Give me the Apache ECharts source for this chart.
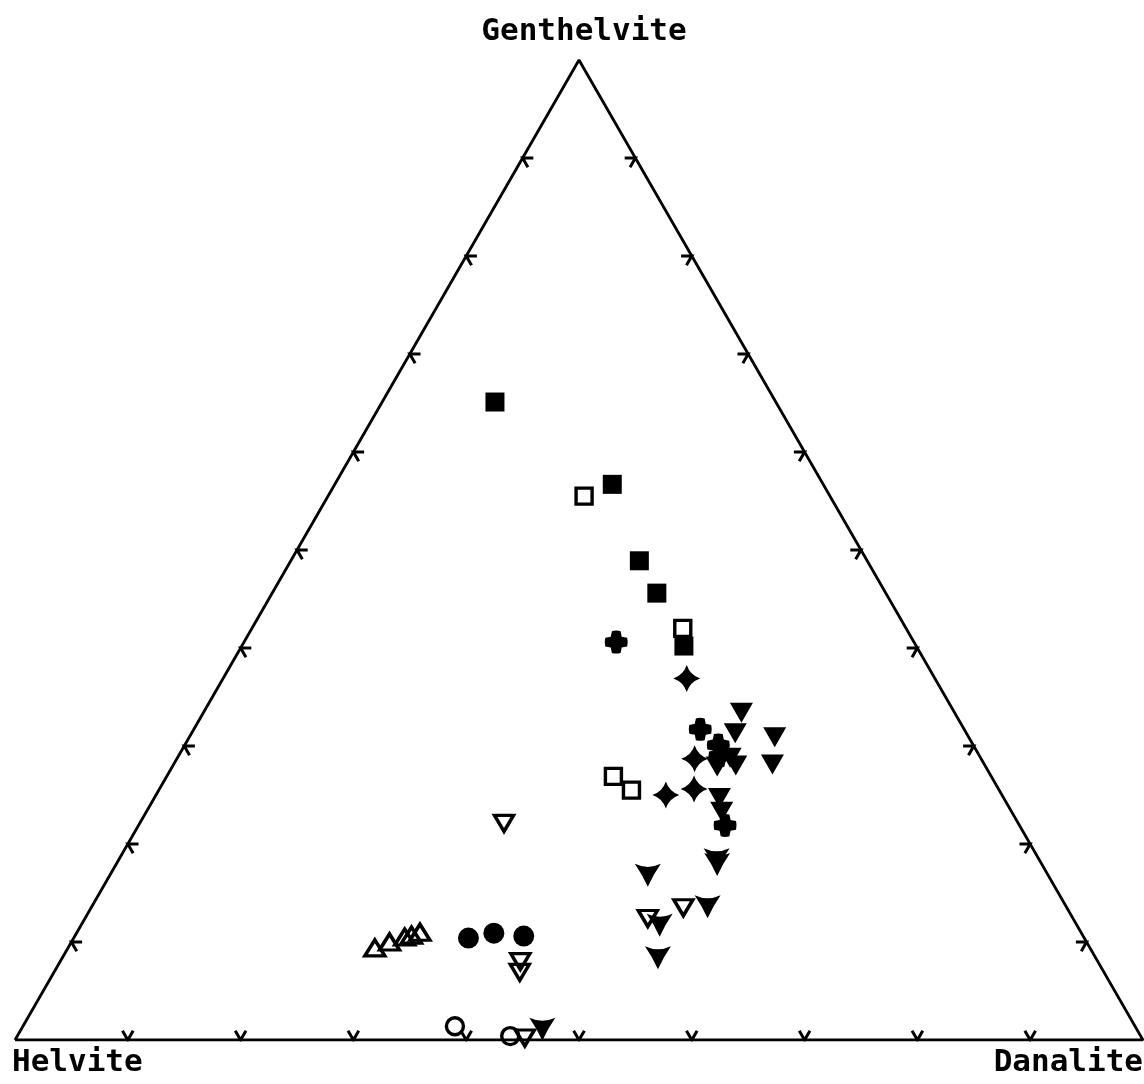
<!DOCTYPE html>
<html>
<head>
<meta charset="utf-8">
<script src="https://cdn.jsdelivr.net/npm/echarts@6/dist/echarts.min.js"></script>
<style>
html,body{margin:0;padding:0;background:#fff;}
#chart{width:1144px;height:1084px;}
</style>
</head>
<body>
<div id="chart"></div>
<script>
// Ternary compositions, mol %: [Danalite, Genthelvite]; Helvite = 100 - Danalite - Genthelvite
var vertexLabels = ['Helvite', 'Danalite', 'Genthelvite'];
var tickValues = [10, 20, 30, 40, 50, 60, 70, 80, 90];

var filledSquares = [[10.0, 65.1], [24.6, 56.7], [30.9, 48.9], [34.1, 45.6], [39.2, 40.2]];
var openSquares = [[22.7, 55.5], [38.2, 42.0], [39.6, 26.9], [41.9, 25.5]];
var crosses = [[33.0, 40.6], [44.9, 31.7], [47.3, 30.1], [48.0, 29.0], [52.0, 21.9]];
var stars = [[41.1, 36.9], [45.9, 28.7], [45.2, 25.0], [47.4, 25.6]];
var filledDownTriangles = [[47.7, 33.4], [48.2, 31.3], [51.9, 30.9], [53.1, 28.1], [48.3, 27.9],
  [49.9, 28.0], [49.0, 28.8], [50.1, 24.7], [51.0, 23.3]];
var yMarkers = [[47.7, 16.8], [53.3, 17.9], [53.0, 18.4], [54.6, 13.6], [51.3, 11.7], [52.8, 8.4], [46.2, 1.1]];
var openDownTriangles = [[32.3, 22.1], [52.5, 13.5], [49.9, 12.4], [40.8, 8.0], [41.3, 6.9], [45.1, 0.2]];
var openCircles = [[38.3, 1.4], [43.7, 0.4]];
var filledCircles = [[35.0, 10.4], [37.0, 10.9], [39.8, 10.6]];
var openUpTriangles = [[27.2, 9.4], [28.2, 10.0], [29.3, 10.5], [29.8, 10.7], [30.4, 11.0]];

var H = Math.sqrt(3) / 2;
function toXY(p) { return [p[0] + p[1] / 2, p[1] * H]; }
function conv(arr) { return arr.map(toXY); }

// triangle frame
var frame = [[0, 0], [100, 0], [50, 100 * H], [0, 0]];

// tick marks: small V's whose arms are parallel to the other two sides
var L = 0.95;
var ticks = [];
tickValues.forEach(function (t) {
  ticks.push({coords: [[t + L * 0.5, L * H], [t, 0], [t - L * 0.5, L * H]]});
  var lx = t / 2, ly = t * H;
  ticks.push({coords: [[lx + L, ly], [lx, ly], [lx + L * 0.5, ly - L * H]]});
  var rx = 100 - t / 2, ry = t * H;
  ticks.push({coords: [[rx - L, ry], [rx, ry], [rx - L * 0.5, ry - L * H]]});
});

var starPath = 'path://M0,-12 Q3,-3 12,0 Q3,3 0,12 Q-3,3 -12,0 Q-3,-3 0,-12Z';
var yPath = 'path://M-12,-9 Q0,-4 12,-9 Q5,0 0,10 Q-5,0 -12,-9Z';
var crossPath = 'path://M-4,-10 Q0,-11 4,-10 L5,-5 L10,-4 Q11,0 10,4 L5,5 L4,10 Q0,11 -4,10 L-5,5 L-10,4 Q-11,0 -10,-4 L-5,-5Z';

function filled(name, data, symbol, size, rot) {
  return {type: 'scatter', name: name, data: conv(data), symbol: symbol, symbolSize: size,
    symbolRotate: rot || 0, itemStyle: {color: '#000', opacity: 1}, z: 5, silent: true};
}
function open(name, data, symbol, size, rot) {
  return {type: 'scatter', name: name, data: conv(data), symbol: symbol, symbolSize: size,
    symbolRotate: rot || 0,
    itemStyle: {color: 'rgba(255,255,255,0)', borderColor: '#000', borderWidth: 3.4, opacity: 1},
    z: 5, silent: true};
}

var labelFont = 'bold 31px "DejaVu Sans Mono"';
var chart = echarts.init(document.getElementById('chart'), null, {renderer: 'canvas'});
chart.setOption({
  backgroundColor: '#fff',
  animation: false,
  grid: {left: 15, top: 60, width: 1128, height: 980, containLabel: false},
  xAxis: {type: 'value', min: 0, max: 100, show: false},
  yAxis: {type: 'value', min: 0, max: 100 * H, show: false},
  graphic: [
    {type: 'text', x: 12, y: 1063, style: {text: vertexLabels[0], font: labelFont, fill: '#000', align: 'left', verticalAlign: 'middle'}},
    {type: 'text', x: 1143, y: 1063, style: {text: vertexLabels[1], font: labelFont, fill: '#000', align: 'right', verticalAlign: 'middle'}},
    {type: 'text', x: 584, y: 32, style: {text: vertexLabels[2], font: labelFont, fill: '#000', align: 'center', verticalAlign: 'middle'}}
  ],
  series: [
    {type: 'line', data: frame, showSymbol: false, lineStyle: {color: '#000', width: 2.8}, silent: true, z: 2},
    {type: 'lines', coordinateSystem: 'cartesian2d', polyline: true, data: ticks,
      lineStyle: {color: '#000', width: 3, opacity: 1}, silent: true, z: 3},
    filled('filled squares', filledSquares, 'rect', 19),
    open('open squares', openSquares, 'rect', 16),
    filled('crosses', crosses, crossPath, 23),
    filled('stars', stars, starPath, 27),
    filled('filled down triangles', filledDownTriangles, 'triangle', [23, 20], 180),
    filled('Y markers', yMarkers, yPath, [26, 23]),
    open('open down triangles', openDownTriangles, 'triangle', [19, 16], 180),
    open('open circles', openCircles, 'circle', 17),
    filled('filled circles', filledCircles, 'circle', 21),
    open('open up triangles', openUpTriangles, 'triangle', [20, 16])
  ]
});
</script>
</body>
</html>
